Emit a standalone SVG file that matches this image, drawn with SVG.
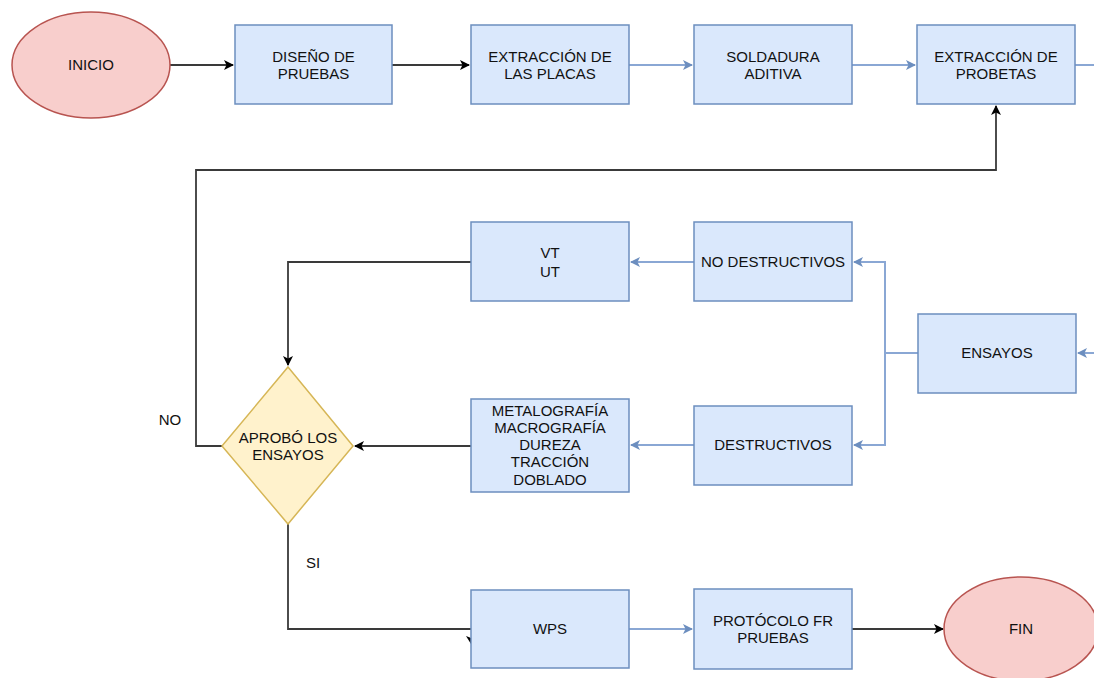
<svg xmlns="http://www.w3.org/2000/svg" width="1094" height="678" viewBox="0 0 1094 678">
<style>
.box{fill:#dae8fc;stroke:#6c8ebf;stroke-width:1.5}
.term{fill:#f8cecc;stroke:#b85450;stroke-width:1.5}
.dec{fill:#fff2cc;stroke:#d6b656;stroke-width:1.5}
.t{font-family:"Liberation Sans",Arial,sans-serif;font-size:15px;fill:#111;text-anchor:middle}
.dk{fill:none;stroke:#3a3a3a;stroke-width:1.8}
.bl{fill:none;stroke:#8aa7d4;stroke-width:2}
</style>
<defs>
<marker id="ad" viewBox="0 0 10 10" refX="9" refY="5" markerWidth="10" markerHeight="10" markerUnits="userSpaceOnUse" orient="auto"><path d="M0,0 L10,5 L0,10 L2.5,5 Z" fill="#000"/></marker>
<marker id="ab" viewBox="0 0 10 10" refX="9" refY="5" markerWidth="10" markerHeight="10" markerUnits="userSpaceOnUse" orient="auto"><path d="M0,0 L10,5 L0,10 L2.5,5 Z" fill="#6c8ebf"/></marker>
</defs>
<g id="connectors">
<path class="dk" d="M170,65 H233" marker-end="url(#ad)"/>
<path class="dk" d="M392,65 H469" marker-end="url(#ad)"/>
<path class="bl" d="M629,65 H692" marker-end="url(#ab)"/>
<path class="bl" d="M852,65 H915" marker-end="url(#ab)"/>
<path class="bl" d="M1075,65 H1094"/>
<path class="bl" d="M1094,353 H1078" marker-end="url(#ab)"/>
<path class="bl" d="M918,353 H885 V262 H854" marker-end="url(#ab)"/>
<path class="bl" d="M885,353 V445 H854" marker-end="url(#ab)"/>
<path class="bl" d="M694,262 H631" marker-end="url(#ab)"/>
<path class="bl" d="M694,445 H631" marker-end="url(#ab)"/>
<path class="dk" d="M471,262 H288 V365" marker-end="url(#ad)"/>
<path class="dk" d="M471,446 H355" marker-end="url(#ad)"/>
<path class="dk" d="M222,446 H196 V170 H996 V106" marker-end="url(#ad)"/>
<path class="dk" d="M288,524 V629 H471"/>
<path d="M466,636 L471,638 L471,644 Z" fill="#000"/>
<path class="bl" d="M629,629 H692" marker-end="url(#ab)"/>
<path class="dk" d="M852,629 H943" marker-end="url(#ad)"/>
<text class="t" x="170" y="425">NO</text>
<text class="t" x="313" y="568">SI</text>
</g>
<g id="inicio"><ellipse class="term" cx="91" cy="65" rx="79" ry="53"/><text class="t" x="91" y="70">INICIO</text></g>
<g id="diseno"><rect class="box" x="235" y="25" width="157" height="79"/><text class="t" x="313.5" y="62">DISEÑO DE</text><text class="t" x="313.5" y="79">PRUEBAS</text></g>
<g id="extraccion-placas"><rect class="box" x="471" y="25" width="158" height="79"/><text class="t" x="550" y="62">EXTRACCIÓN DE</text><text class="t" x="550" y="79">LAS PLACAS</text></g>
<g id="soldadura"><rect class="box" x="694" y="25" width="158" height="79"/><text class="t" x="773" y="62">SOLDADURA</text><text class="t" x="773" y="79">ADITIVA</text></g>
<g id="extraccion-probetas"><rect class="box" x="917" y="25" width="158" height="79"/><text class="t" x="996" y="62">EXTRACCIÓN DE</text><text class="t" x="996" y="79">PROBETAS</text></g>
<g id="vt-ut"><rect class="box" x="471" y="222" width="158" height="79"/><text class="t" x="550" y="258">VT</text><text class="t" x="550" y="277">UT</text></g>
<g id="no-destructivos"><rect class="box" x="694" y="222" width="158" height="79"/><text class="t" x="773" y="267">NO DESTRUCTIVOS</text></g>
<g id="ensayos"><rect class="box" x="918" y="314" width="158" height="79"/><text class="t" x="997" y="358">ENSAYOS</text></g>
<g id="metalografia"><rect class="box" x="471" y="399" width="158" height="93"/><text class="t" x="550" y="416">METALOGRAFÍA</text><text class="t" x="550" y="433">MACROGRAFÍA</text><text class="t" x="550" y="450">DUREZA</text><text class="t" x="550" y="467">TRACCIÓN</text><text class="t" x="550" y="485">DOBLADO</text></g>
<g id="destructivos"><rect class="box" x="694" y="406" width="158" height="79"/><text class="t" x="773" y="450">DESTRUCTIVOS</text></g>
<g id="aprobo"><polygon class="dec" points="288,367 353,446 288,524 222,446"/><text class="t" x="288" y="443">APROBÓ LOS</text><text class="t" x="288" y="460">ENSAYOS</text></g>
<g id="wps"><rect class="box" x="471" y="590" width="158" height="78"/><text class="t" x="550" y="634">WPS</text></g>
<g id="protocolo"><rect class="box" x="694" y="589" width="158" height="80"/><text class="t" x="773" y="626">PROTÓCOLO FR</text><text class="t" x="773" y="643">PRUEBAS</text></g>
<g id="fin"><ellipse class="term" cx="1021" cy="629" rx="77" ry="52"/><text class="t" x="1021" y="634">FIN</text></g>
</svg>
